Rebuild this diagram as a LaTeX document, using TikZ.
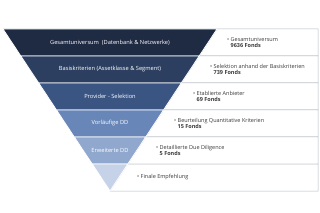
\documentclass[tikz,border=0pt]{standalone}
\usepackage{fontspec}
\setmainfont{Open Sans}
\definecolor{cA}{HTML}{1F2A43}
\definecolor{cB}{HTML}{2C3F60}
\definecolor{cC}{HTML}{3B5583}
\definecolor{cD}{HTML}{6886B8}
\definecolor{cE}{HTML}{91A8CE}
\definecolor{cF}{HTML}{C6D2E7}
\definecolor{rowline}{HTML}{B4BAC4}
\definecolor{rtxt}{HTML}{3A3A3A}
\begin{document}
\begin{tikzpicture}[x=1pt,y=-1pt,
  band/.style={draw=white, line width=0.8pt, line join=miter},
  rowbox/.style={fill=white, draw=rowline, line width=0.5pt},
  ftext/.style={text=white, font=\fontsize{5.7}{6.5}\selectfont, inner sep=0},
  rtext/.style={anchor=west, align=left, text=rtxt, font=\fontsize{5.5}{6.6}\selectfont, inner sep=0}]
\useasboundingbox (0,0) rectangle (320,213);
% funnel corner coordinates
\coordinate (L0) at (3,29);     \coordinate (R0) at (217,29);
\coordinate (L1) at (20.8,56);  \coordinate (R1) at (199.2,56);
\coordinate (L2) at (38.7,83);  \coordinate (R2) at (181.3,83);
\coordinate (L3) at (56.5,110); \coordinate (R3) at (163.5,110);
\coordinate (L4) at (74.3,137); \coordinate (R4) at (145.7,137);
\coordinate (L5) at (92.2,164); \coordinate (R5) at (127.8,164);
\coordinate (A)  at (110,191);
% right border coordinates
\coordinate (E0) at (318,29);
\coordinate (E1) at (318,56);
\coordinate (E2) at (318,83);
\coordinate (E3) at (318,110);
\coordinate (E4) at (318,137);
\coordinate (E5) at (318,164);
\coordinate (E6) at (318,191);
% right row boxes
\draw[rowbox] (R0) -- (E0) -- (E1) -- (R1) -- cycle;
\draw[rowbox] (R1) -- (E1) -- (E2) -- (R2) -- cycle;
\draw[rowbox] (R2) -- (E2) -- (E3) -- (R3) -- cycle;
\draw[rowbox] (R3) -- (E3) -- (E4) -- (R4) -- cycle;
\draw[rowbox] (R4) -- (E4) -- (E5) -- (R5) -- cycle;
\draw[rowbox] (R5) -- (E5) -- (E6) -- (A) -- cycle;
% funnel bands
\filldraw[band, fill=cA] (L0) -- (R0) -- (R1) -- (L1) -- cycle;
\filldraw[band, fill=cB] (L1) -- (R1) -- (R2) -- (L2) -- cycle;
\filldraw[band, fill=cC] (L2) -- (R2) -- (R3) -- (L3) -- cycle;
\filldraw[band, fill=cD] (L3) -- (R3) -- (R4) -- (L4) -- cycle;
\filldraw[band, fill=cE] (L4) -- (R4) -- (R5) -- (L5) -- cycle;
\filldraw[band, fill=cF] (L5) -- (R5) -- (A) -- cycle;
% funnel labels
\node[ftext] (f1) at (110,42.5) {Gesamtuniversum\ \ (Datenbank \& Netzwerke)};
\node[ftext] (f2) at (110,69.5) {Basiskriterien (Assetklasse \& Segment)};
\node[ftext] (f3) at (110,96.5) {Provider - Selektion};
\node[ftext] (f4) at (110,123.5) {Vorläufige DD};
\node[ftext] (f5) at (110,150.5) {Erweiterte DD};
% right labels
\node[rtext] (r1) at (227,42.5) {•\ Gesamtuniversum\\\phantom{•\ }\textbf{9636 Fonds}};
\node[rtext] (r2) at (210,69.5) {•\ Selektion anhand der Basiskriterien\\\phantom{•\ }\textbf{739 Fonds}};
\node[rtext] (r3) at (193,96.5) {•\ Etablierte Anbieter\\\phantom{•\ }\textbf{69 Fonds}};
\node[rtext] (r4) at (174,123.5) {•\ Beurteilung Quantitative Kriterien\\\phantom{•\ }\textbf{15 Fonds}};
\node[rtext] (r5) at (156,150.5) {•\ Detaillierte Due Diligence\\\phantom{•\ }\textbf{5 Fonds}};
\node[rtext] (r6) at (137,177.5) {•\ Finale Empfehlung};
\end{tikzpicture}
\end{document}
